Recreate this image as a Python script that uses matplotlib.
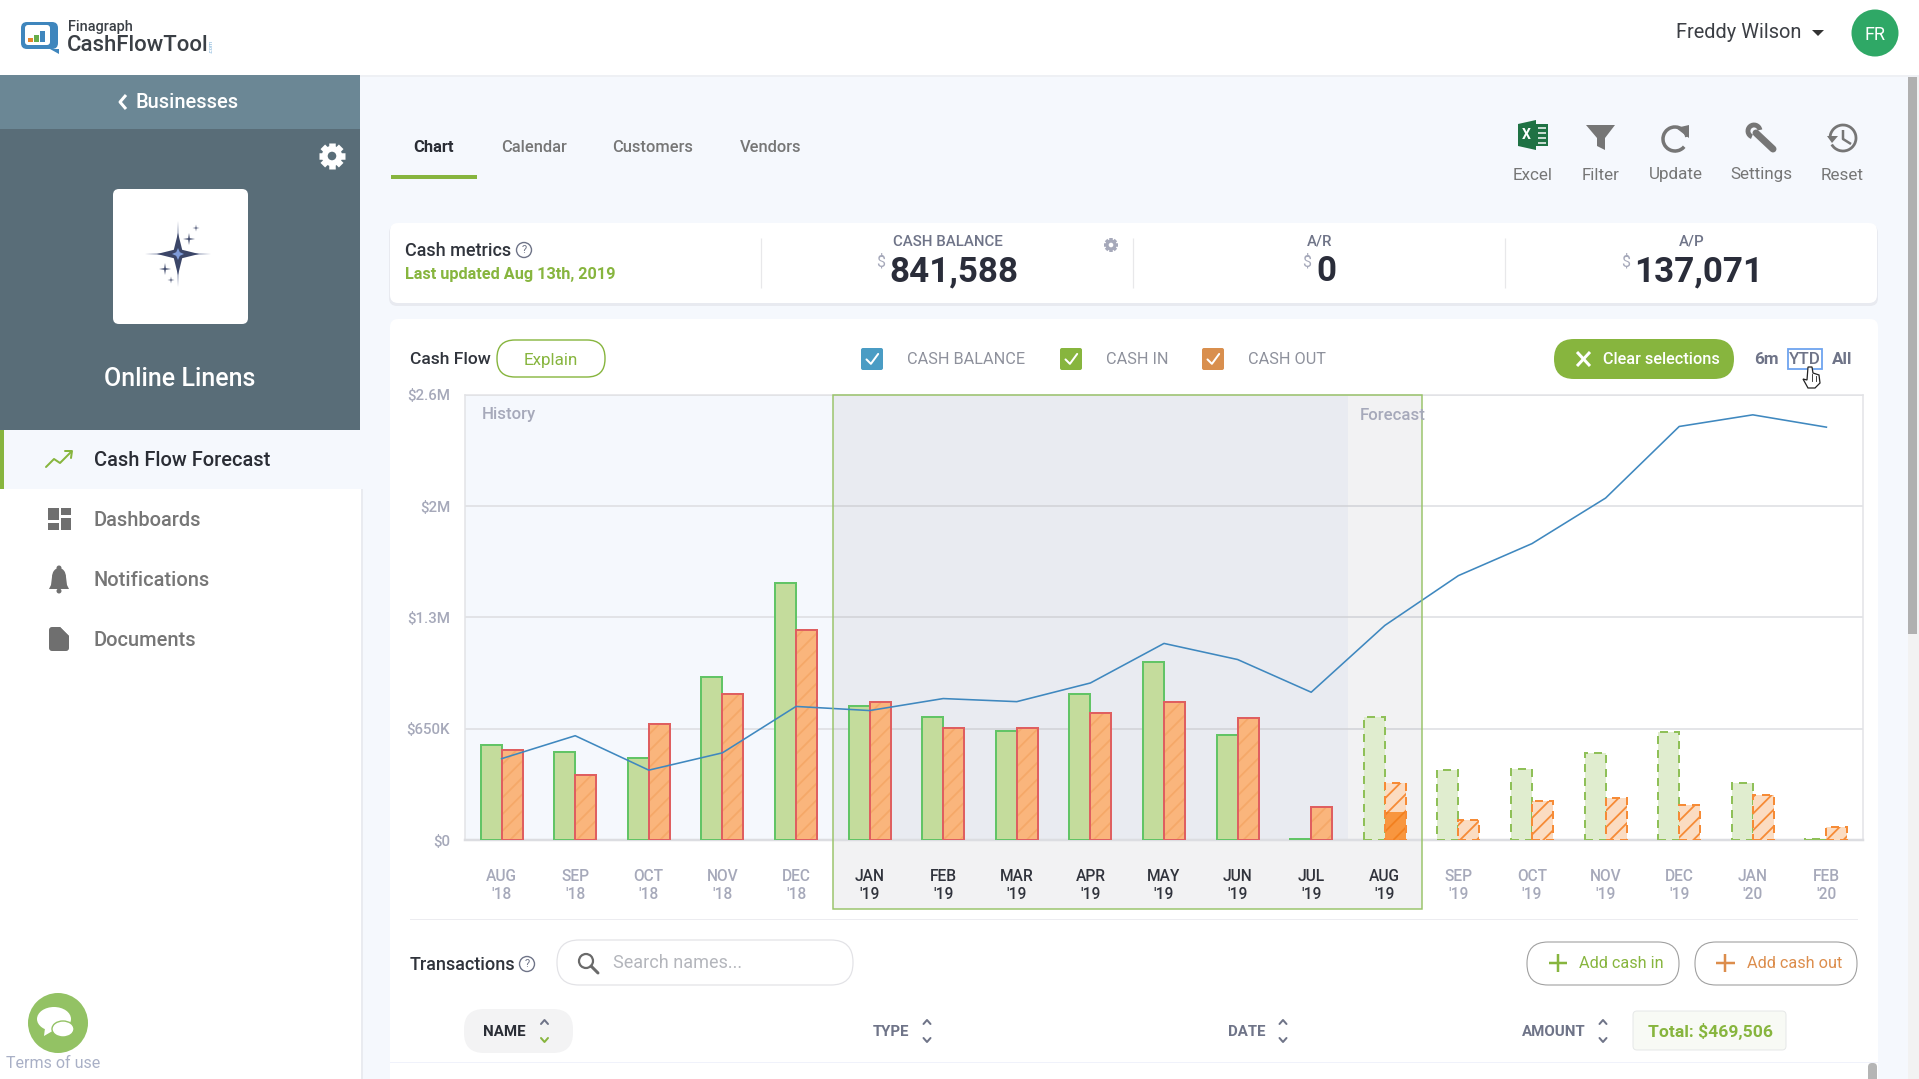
import numpy as np
import matplotlib
matplotlib.use("Agg")
import matplotlib.pyplot as plt
from matplotlib.patches import Rectangle, FancyBboxPatch, Circle, Polygon, Arc, Ellipse

plt.rcParams['font.family'] = ['Roboto', 'DejaVu Sans']

# ---------------- data ----------------
months = ["AUG\n'18", "SEP\n'18", "OCT\n'18", "NOV\n'18", "DEC\n'18", "JAN\n'19", "FEB\n'19", "MAR\n'19",
          "APR\n'19", "MAY\n'19", "JUN\n'19", "JUL\n'19", "AUG\n'19", "SEP\n'19", "OCT\n'19", "NOV\n'19",
          "DEC\n'19", "JAN\n'20", "FEB\n'20"]
cash_in = [555, 515, 481, 951, 1502, 782, 720, 635, 851, 1042, 611, 6,
           720, 410, 412, 507, 629, 334, 6]
cash_out = [523, 382, 680, 853, 1227, 806, 652, 656, 742, 808, 710, 191,
            334, 119, 225, 247, 203, 261, 76]
cash_out_actual_aug = 165
cash_balance = [475, 609, 408, 509, 780, 756, 826, 808, 917, 1148, 1054, 863,
                1253, 1544, 1731, 1997, 2415, 2483, 2411]
y_ticks = [0, 650, 1300, 1950, 2600]
y_labels = ["$0", "$650K", "$1.3M", "$2M", "$2.6M"]
n_history = 12
sel_first, sel_last = 5, 12

W, H = 1919, 1079
PX = 0.72
fig = plt.figure(figsize=(W / 100, H / 100), dpi=100, facecolor='#f5f8fd')
ui = fig.add_axes([0, 0, 1, 1], zorder=0)
ui.set_xlim(0, W); ui.set_ylim(H, 0); ui.axis('off')

GREEN = '#87b53e'
GREY = '#767676'
LBL = '#a6a9ba'


def T(x, y, s, px, color='#333333', weight='normal', ha='left', va='center', **kw):
    return ui.text(x, y + 1.5, s, fontsize=px * PX, color=color, fontweight=weight, ha=ha, va=va, **kw)


def R(x0, y0, x1, y1, fc, z=1, **kw):
    ui.add_patch(Rectangle((x0, y0), x1 - x0, y1 - y0, facecolor=fc, edgecolor='none', zorder=z, **kw))


def P(x0, y0, x1, y1, r, fc='white', ec='none', lw=1.0, z=2):
    ui.add_patch(FancyBboxPatch((x0, y0), x1 - x0, y1 - y0, boxstyle=f"round,pad=0,rounding_size={r}",
                                facecolor=fc, edgecolor=ec, linewidth=lw * PX, zorder=z))


def L(xs, ys, c, lw=2, z=4, **kw):
    ui.plot(xs, ys, color=c, lw=lw * PX, zorder=z, solid_capstyle=kw.pop('cap', 'round'), **kw)


def gear(cx, cy, r, fc, hole):
    for a in np.arange(0, 360, 45):
        ar = np.radians(a)
        L([cx, cx + r * np.cos(ar)], [cy, cy + r * np.sin(ar)], fc, lw=r * 0.5, cap='butt', z=5)
    ui.add_patch(Circle((cx, cy), r * 0.78, fc=fc, ec='none', zorder=5))
    ui.add_patch(Circle((cx, cy), r * 0.33, fc=hole, ec='none', zorder=6))


def help_icon(cx, cy):
    ui.add_patch(Circle((cx, cy), 7.5, fc='none', ec='#6f7488', lw=1.0, zorder=5))
    ui.text(cx, cy, '?', fontsize=11 * PX, color='#6f7488', ha='center', va='center', zorder=6)


def sparkle(cx, cy, r, c='#3c4668', k_ratio=0.13):
    k = r * k_ratio
    ui.add_patch(Polygon([(cx, cy - r), (cx + k, cy - k), (cx + r, cy), (cx + k, cy + k), (cx, cy + r),
                          (cx - k, cy + k), (cx - r, cy), (cx - k, cy - k)], fc=c, ec='none', zorder=5))


def updown(cx, cy, down='#6f7488'):
    L([cx - 3.5, cx, cx + 3.5], [cy - 7, cy - 11, cy - 7], '#6f7488', lw=2)
    L([cx - 3.5, cx, cx + 3.5], [cy + 7, cy + 11, cy + 7], down, lw=2)


def check(x0, y0, x1, y1, fc):
    P(x0, y0, x1, y1, 2, fc=fc, z=3)
    w, h = x1 - x0, y1 - y0
    L([x0 + .25 * w, x0 + .45 * w, x0 + .78 * w], [y0 + .52 * h, y0 + .72 * h, y0 + .27 * h], 'white', lw=2)


# ---------------- header + sidebar ----------------
R(0, 0, W, 75, 'white')
R(0, 75, W, 77, '#eef0f4')
R(0, 75, 360, 129, '#6b8795', z=2)
R(0, 129, 360, 430, '#596d78', z=2)
R(0, 430, 360, 489, '#f5f8fd', z=2)
R(0, 489, 361, H, 'white', z=2)
R(361, 489, 363, H, '#e9ebf0', z=2)
R(0, 430, 4, 489, GREEN, z=3)

# logo
P(21, 22, 58, 49, 6, fc='#3f86bd', z=3)
ui.add_patch(Polygon([(50, 49), (59, 49), (59, 54)], fc='#3f86bd', ec='none', zorder=3))
P(25, 25, 50, 45, 3, fc='white', z=4)
R(28, 38, 33, 42, '#e5862c', z=5)
R(34, 35, 39, 42, '#67ad4a', z=5)
R(40, 31, 45, 42, '#3f86bd', z=5)
T(68, 25, 'Finagraph', 14.5, '#3a3f45', 'medium')
T(67, 44, 'CashFlowTool', 22.2, '#3a3f45', 'medium')
ui.text(211.5, 46, '.com', fontsize=6 * PX, color='#7db0d8', rotation=90, ha='center', va='center', zorder=5)

T(187, 101, 'Businesses', 20, 'white', 'medium', ha='center', zorder=5)
L([126, 120, 126], [95, 102, 109], 'white', lw=3, cap='butt')
gear(332, 156, 13, 'white', '#596d78')
P(113, 189, 248, 324, 6, fc='white', z=3)
sparkle(178, 254, 33, '#9aa2bb', 0.05)
sparkle(178, 254, 21, '#3c4668', 0.2)
sparkle(178, 254, 6, '#7f9bd8', 0.3)
sparkle(189, 239, 6)
sparkle(196, 228, 3.5)
sparkle(165, 269, 6)
sparkle(171, 280, 3.5)
T(180, 377, 'Online Linens', 25, 'white', 'medium', ha='center', zorder=5)

T(93.5, 459, 'Cash Flow Forecast', 20, '#2a2d35', 'medium', zorder=5)
T(93.5, 519, 'Dashboards', 20, GREY, 'medium', zorder=5)
T(93.5, 579, 'Notifications', 20, GREY, 'medium', zorder=5)
T(93.5, 639, 'Documents', 20, GREY, 'medium', zorder=5)
L([46, 54, 60, 71], [467, 459, 463, 452], GREEN, lw=2)
L([65, 72, 71], [451, 451, 458], GREEN, lw=2)
for box in [(48, 508, 59, 520), (48, 523, 59, 530), (61, 508, 71, 515), (61, 518, 71, 530)]:
    R(box[0], box[1], box[2], box[3], '#6f6f6f', z=5)
ui.add_patch(Ellipse((59, 577), 14, 18, fc='#6f6f6f', ec='none', zorder=5))
ui.add_patch(Circle((59, 568), 2.5, fc='#6f6f6f', ec='none', zorder=5))
ui.add_patch(Polygon([(52, 577), (66, 577), (67, 585), (69, 589), (49, 589), (51, 585)],
                     fc='#6f6f6f', ec='none', zorder=5))
ui.add_patch(Circle((59, 591), 2.5, fc='#6f6f6f', ec='none', zorder=5))
ui.add_patch(FancyBboxPatch((49, 627), 20, 24, boxstyle="round,pad=0,rounding_size=3", fc='#6f6f6f', ec='none', zorder=5))
ui.add_patch(Polygon([(60, 627), (69, 627), (69, 636)], fc='white', ec='none', zorder=6))
ui.add_patch(Polygon([(60, 627), (69, 636), (60, 636)], fc='#6f6f6f', ec='none', zorder=6))

ui.add_patch(Circle((58, 1023), 30, fc='#93c264', ec='none', zorder=5))
ui.add_patch(Ellipse((54, 1019), 34, 24, fc='white', ec='none', zorder=6))
ui.add_patch(Polygon([(45, 1028), (44, 1036), (56, 1029)], fc='white', ec='none', zorder=6))
ui.add_patch(Ellipse((63, 1029), 22, 16, fc='white', ec='#93c264', lw=1, zorder=7))
T(6, 1062, 'Terms of use', 16, '#a9b0c6', zorder=6)

# top right
T(1676, 31, 'Freddy Wilson', 20, '#3c3f45')
ui.add_patch(Polygon([(1812, 30), (1824, 30), (1818, 36)], fc='#333333', ec='none', zorder=5))
ui.add_patch(Circle((1875, 33), 23.5, fc='#2fa866', ec='none', zorder=5))
T(1875, 33, 'FR', 18, 'white', ha='center', zorder=6)

# scrollbars
R(1908, 77, W, H, '#f2f2f2')
R(1908, 77, 1917, 634, '#b0b0b0', z=3)

# tabs
for cx, s, c, w, sz in [(433.5, 'Chart', '#2a2d35', 'bold', 16.5), (534, 'Calendar', GREY, 'medium', 16.5),
                        (653, 'Customers', GREY, 'medium', 16.5), (771, 'Vendors', GREY, 'medium', 16.5)]:
    T(cx, 146.5, s, sz, c, w, ha='center')
R(391, 175, 477, 179, GREEN, z=3)

# toolbar
for cx, s in [(1533, 'Excel'), (1600.5, 'Filter'), (1675.5, 'Update'), (1761, 'Settings'), (1842, 'Reset')]:
    T(cx, 173.5, s, 17, GREY, ha='center')
ui.add_patch(Polygon([(1518, 124), (1536, 120), (1536, 150), (1518, 146)], fc='#1f7244', ec='none', zorder=4))
R(1536, 124, 1548, 146, '#1f7244', z=4)
ui.text(1526, 135, 'X', fontsize=14 * PX, color='white', fontweight='bold', ha='center', va='center', zorder=6)
for yy in (128, 133, 138, 143):
    L([1538, 1546], [yy, yy], 'white', lw=1.5, z=6, cap='butt')
ui.add_patch(Polygon([(1586, 125), (1615, 125), (1605, 138), (1605, 150), (1597, 146), (1597, 138)],
                     fc=GREY, ec='none', zorder=4))
ui.add_patch(Arc((1675, 139), 24, 24, theta1=-320, theta2=-10, ec=GREY, lw=3.5 * PX, zorder=4))
ui.add_patch(Polygon([(1676, 128), (1689, 125), (1689, 138)], fc=GREY, ec='none', zorder=4))
L([1756, 1773], [133, 149], GREY, lw=7, cap='round')
ui.add_patch(Arc((1754, 131), 12, 12, theta1=110, theta2=350, ec=GREY, lw=3.5, zorder=4))
ui.add_patch(Arc((1843, 138), 26, 26, theta1=-180, theta2=150, ec=GREY, lw=2, zorder=4))
ui.add_patch(Polygon([(1827, 136), (1838, 136), (1832, 143)], fc=GREY, ec='none', zorder=4))
L([1843, 1843, 1851], [130, 139, 144], GREY, lw=2.5, cap='butt')

# metrics card
P(389, 225, 1878, 306, 8, fc='#e8eaf0', z=1)
P(390, 223, 1877, 303, 8, fc='white', z=2)
T(405, 250, 'Cash metrics', 18, '#30343c', 'medium', zorder=5)
help_icon(524, 250)
T(405, 273, 'Last updated Aug 13th, 2019', 16.3, GREEN, 'bold', zorder=5)
for xs in (761, 1133, 1505):
    L([xs, xs], [238, 288], '#e8e8ea', lw=1.2, cap='butt')
T(948, 240, 'CASH BALANCE', 15, '#6f7488', 'medium', ha='center', zorder=5)
T(881, 260, '$', 16, '#a6a9ba', ha='center', zorder=5)
T(889, 270, '841,588', 35, '#2a2d3a', 'bold', zorder=5)
gear(1111, 245, 7, '#a6a9ba', 'white')
T(1320, 240, 'A/R', 15, '#6f7488', 'medium', ha='center', zorder=5)
T(1307, 260, '$', 16, '#a6a9ba', ha='center', zorder=5)
T(1316, 270, '0', 35, '#2a2d3a', 'bold', zorder=5)
T(1692, 240, 'A/P', 15, '#6f7488', 'medium', ha='center', zorder=5)
T(1626, 260, '$', 16, '#a6a9ba', ha='center', zorder=5)
T(1634, 270, '137,071', 35, '#2a2d3a', 'bold', zorder=5)

# chart card
P(390, 319, 1878, H + 30, 8, fc='white', z=2)
T(410, 358, 'Cash Flow', 17.5, '#30343c', 'medium', zorder=5)
P(497, 340, 605, 377, 18, fc='white', ec=GREEN, lw=1.4, z=3)
T(551, 358.5, 'Explain', 17, GREEN, ha='center', zorder=5)
check(861, 348, 883, 370, '#4a9cc4')
T(907, 357.5, 'CASH BALANCE', 16.3, '#8e919c', zorder=5)
check(1060, 348, 1082, 370, GREEN)
T(1106, 357.5, 'CASH IN', 16.3, '#8e919c', zorder=5)
check(1202, 348, 1224, 370, '#d98f4e')
T(1248, 357.5, 'CASH OUT', 16.3, '#8e919c', zorder=5)
P(1554, 339, 1734, 379, 20, fc=GREEN, z=3)
L([1577, 1590], [352, 366], 'white', lw=3, cap='butt')
L([1577, 1590], [366, 352], 'white', lw=3, cap='butt')
T(1603, 358.5, 'Clear selections', 16.3, 'white', 'medium', zorder=5)
T(1766, 357.5, '6m', 17, '#6f7488', 'bold', ha='center', zorder=5)
T(1805, 357.5, 'YTD', 17, '#6f7488', 'medium', ha='center', zorder=5)
ui.add_patch(Rectangle((1788, 349), 34, 20, fc='none', ec='#6ea4ef', lw=1.3, zorder=5))
T(1842, 357.5, 'All', 17, '#6f7488', 'bold', ha='center', zorder=5)

# transactions area
R(410, 919, 1858, 920, '#ececf0', z=3)
T(410, 963, 'Transactions', 18, '#30343c', 'medium', zorder=5)
help_icon(527, 964)
P(557, 940, 853, 985, 22, fc='white', ec='#e2e2e6', lw=1.2, z=3)
ui.add_patch(Circle((586, 961), 7, fc='none', ec='#6a6a6a', lw=1.6, zorder=5))
L([591, 598], [966, 973], '#6a6a6a', lw=3)
T(613, 962, 'Search names...', 18, '#b4b6bc', zorder=5)
P(1527, 942, 1679, 985, 21, fc='white', ec='#a0a0a0', lw=1.1, z=3)
L([1549, 1567], [963, 963], GREEN, lw=2.5, cap='butt')
L([1558, 1558], [954, 972], GREEN, lw=2.5, cap='butt')
T(1579, 962, 'Add cash in', 16.3, GREEN, zorder=5)
P(1695, 942, 1857, 985, 21, fc='white', ec='#a0a0a0', lw=1.1, z=3)
L([1716, 1735], [963, 963], '#dc8d4c', lw=2.5, cap='butt')
L([1725, 1725], [954, 972], '#dc8d4c', lw=2.5, cap='butt')
T(1747, 962, 'Add cash out', 16.3, '#dc8d4c', zorder=5)

P(464, 1009, 573, 1053, 20, fc='#f3f3f4', z=3)
T(483, 1030, 'NAME', 15, '#2a2d35', 'bold', zorder=5)
updown(544.5, 1031, GREEN)
T(873, 1030, 'TYPE', 15, '#6f7488', 'bold', zorder=5)
updown(927, 1031)
T(1228, 1030, 'DATE', 15, '#6f7488', 'bold', zorder=5)
updown(1283, 1031)
T(1522, 1030, 'AMOUNT', 15, '#6f7488', 'bold', zorder=5)
updown(1603, 1031)
P(1633, 1011, 1786, 1050, 4, fc='#f8faf5', ec='#e6e8e8', lw=1, z=3)
T(1710, 1030, 'Total: $469,506', 17.5, GREEN, 'bold', ha='center', zorder=5)
R(390, 1062, 1878, 1063, '#f0f2fb', z=3)
P(1868, 1063, 1877, H + 10, 4, fc='#b5b5b5', z=4)

# ---------------- chart ----------------
ax = fig.add_axes([464.8 / W, 1 - 840 / H, (1863.2 - 464.8) / W, (840 - 394.8) / H], zorder=2)
ax.patch.set_alpha(0)
x = np.arange(len(months))
ax.set_xlim(-0.5, 18.5)
ax.set_ylim(0, 2600)
ax.axvspan(-0.5, n_history - 0.5, color='#f5f8fd', lw=0, zorder=0)
ax.set_yticks(y_ticks)
ax.set_yticklabels(y_labels)
ax.set_xticks(x)
ax.set_xticklabels(months, linespacing=1.25)
ax.tick_params(axis='both', length=0)
ax.tick_params(axis='y', labelsize=15 * PX, labelcolor=LBL, pad=10.5)
ax.tick_params(axis='x', labelsize=15.5 * PX, pad=21)
for i, lab in enumerate(ax.get_xticklabels()):
    lab.set_fontweight('medium')
    lab.set_color('#33363f' if sel_first <= i <= sel_last else LBL)
for lab in ax.get_yticklabels():
    lab.set_fontweight('medium')
ax.grid(axis='y', color='#dcdde1', lw=1.5 * PX, zorder=1)
ax.set_axisbelow(True)
for k, s in ax.spines.items():
    s.set_color('#e2e3e6')
    s.set_linewidth(1.5 * PX)
ax.spines['bottom'].set_linewidth(2.5 * PX)
ax.spines['bottom'].set_color('#dcdde1')

# selection box
y_bottom = -(908.6 - 840) / (840 - 394.8) * 2600
ax.add_patch(Rectangle((sel_first - 0.5, y_bottom), sel_last - sel_first + 1, 2600 - y_bottom,
                       facecolor='#0a0a14', alpha=0.052, edgecolor='none', zorder=1.5, clip_on=False))
ax.add_patch(Rectangle((sel_first - 0.5, y_bottom), sel_last - sel_first + 1, 2600 - y_bottom,
                       facecolor='none', edgecolor='#9ac46a', lw=1.5 * PX, zorder=6, clip_on=False))

bw = 0.285
h = n_history
plt.rcParams['hatch.linewidth'] = 1.3
# history bars
ax.bar(x[:h] - bw, cash_in[:h], bw, align='edge', color='#c4dc9c', edgecolor='#62c466', lw=2 * PX, zorder=3)
ax.bar(x[:h], cash_out[:h], bw, align='edge', color='#fab57c', edgecolor='#f5a868', hatch='//', lw=0, zorder=3)
ax.bar(x[:h], cash_out[:h], bw, align='edge', color='none', edgecolor='#df5f60', lw=2 * PX, zorder=3.1)
# forecast bars
ax.bar(x[h:] - bw, cash_in[h:], bw, align='edge', color='#e0edcf', edgecolor='#8fc058', lw=2 * PX,
       linestyle=(0, (4, 3)), zorder=3)
ax.bar(x[h:], cash_out[h:], bw, align='edge', color='#fbdcc2', edgecolor='#f68b36', hatch='//', lw=0, zorder=3)
ax.bar(x[h], cash_out_actual_aug, bw, align='edge', color='#f8963f', edgecolor='#f2801f', hatch='//', lw=0, zorder=3.05)
ax.bar(x[h:], cash_out[h:], bw, align='edge', color='none', edgecolor='#f68b36', lw=2 * PX,
       linestyle=(0, (4, 3)), zorder=3.1)
# balance line
ax.plot(x, cash_balance, color='#3f88bf', lw=1.6 * PX, zorder=4)

ax.text(481.5, 415, 'History', transform=ui.transData, fontsize=16.8 * PX, color=LBL, fontweight='medium', va='center', zorder=7)
ax.text(1360, 415, 'Forecast', transform=ui.transData, fontsize=16.8 * PX, color=LBL, fontweight='medium', va='center', zorder=7)

# pointer cursor, above the chart
cur = fig.add_axes([0, 0, 1, 1], zorder=3)
cur.set_xlim(0, W); cur.set_ylim(H, 0); cur.axis('off'); cur.patch.set_alpha(0)
cur.add_patch(Polygon([(1808, 367), (1812, 367), (1813, 373), (1819, 375), (1820, 383), (1815, 388), (1808, 388),
                       (1803, 379), (1807, 380)], fc='white', ec='#222222', lw=0.9))
cur.plot([1812, 1812], [374, 381], color='#222222', lw=0.6)
cur.plot([1816, 1816], [376, 381], color='#222222', lw=0.6)

fig.savefig('out.png', dpi=100, facecolor=fig.get_facecolor())
